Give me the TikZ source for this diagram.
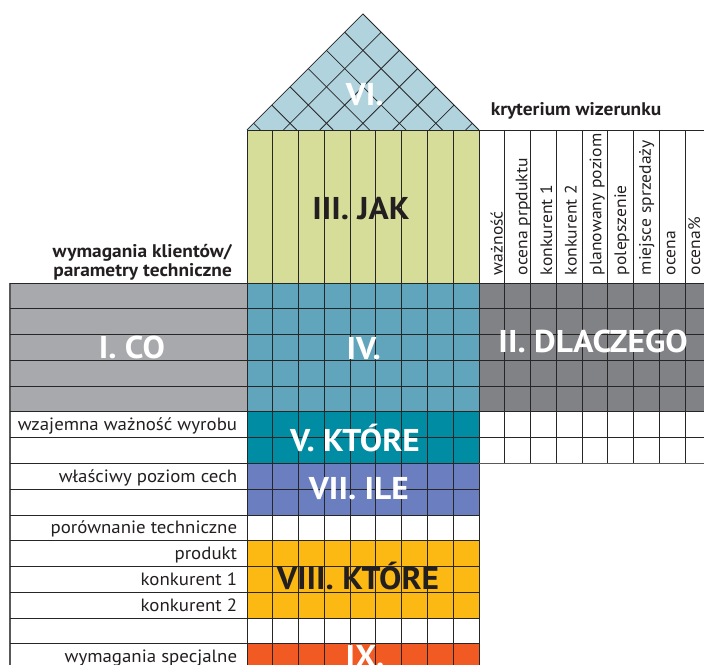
\documentclass[tikz,border=0pt]{standalone}
\usepackage{fontspec}
\setmainfont{PT Sans}[FakeStretch=1.06]
\usepackage{tikz,xcolor}

\definecolor{cogray}{HTML}{A7A9AC}
\definecolor{whygray}{HTML}{808285}
\definecolor{jakgreen}{HTML}{D5DD98}
\definecolor{roofblue}{HTML}{B1D3DE}
\definecolor{ivblue}{HTML}{60A5BC}
\definecolor{vteal}{HTML}{008CA2}
\definecolor{viiblue}{HTML}{6B7FC0}
\definecolor{viiiyellow}{HTML}{FDB913}
\definecolor{ixorange}{HTML}{F15A22}
\definecolor{darktext}{HTML}{231F20}

\begin{document}
\begin{tikzpicture}[x=25.77pt, y=25.77pt,
		gridline/.style={black!85, line width=0.8pt},
		edgeline/.style={black!65, line width=1.1pt},
		rowtext/.style={font=\fontsize{17.8}{20}\selectfont, anchor=base east, inner sep=0pt, darktext},
		crittext/.style={font=\fontsize{16.6}{20}\selectfont, rotate=90, anchor=base west, inner sep=0pt, darktext},
		secttext/.style={font=\fontsize{31.5}{34}\selectfont\bfseries, white, anchor=base, inner sep=0pt}]
	
	\useasboundingbox (-9.585,-14.785) rectangle (17.734,10.982);
	\clip (-9.585,-14.785) rectangle (17.734,10.982);
	
	% Fill the parts of the house.
	\fill[cogray] (-9.197,0) rectangle (0,-5);
	\fill[whygray] (9,0) rectangle (18,-5);
	\fill[jakgreen] (0,0) rectangle (9,5.94);
	\fill[ivblue] (0,0) rectangle (9,-5);
	\fill[vteal] (0,-5) rectangle (9,-7);
	\fill[viiblue] (0,-7) rectangle (9,-9);
	\fill[viiiyellow] (0,-10) rectangle (9,-13);
	\fill[ixorange] (0,-14) rectangle (9,-15);
	
	% Draw the roof.
	\fill[roofblue] (0,5.94) -- (4.5,10.44) -- (9,5.94) -- cycle;
	\begin{scope}
		\clip (0,5.94) -- (4.5,10.44) -- (9,5.94) -- cycle;
		\foreach \k in {1,...,6} {
			\draw[gridline] ({1.4142*\k},5.94) -- ++(5,5);
			\draw[gridline] ({9-1.4142*\k},5.94) -- ++(-5,5);
		}
	\end{scope}
	\draw[gridline] (0,5.94) -- (4.5,10.44) -- (9,5.94);
	
	% Draw vertical lines.
	\foreach \x in {0,...,9} {
		\draw[gridline] (\x,5.94) -- (\x,-15);
	}
	\foreach \x in {10,...,18} {
		\draw[gridline] (\x,5.94) -- (\x,-7);
	}
	\draw[edgeline] (-9.197,0) -- (-9.197,-15);
	
	% Draw horizontal lines.
	\draw[gridline] (0,5.94) -- (18,5.94);
	\foreach \y in {0,...,14} {
		\draw[gridline] (-9.197,-\y) -- (9,-\y);
	}
	\foreach \y in {0,...,6} {
		\draw[gridline] (9,-\y) -- (18,-\y);
	}
	\draw[edgeline] (9,-7) -- (18,-7);
	
	% Column headers.
	\node[font=\fontsize{18.3}{20}\selectfont\bfseries, darktext] (crit) at (12.77,6.675) {kryterium wizerunku};
	\foreach \txt [count=\i] in {ważność, ocena prpduktu, konkurent 1, konkurent 2,
			planowany poziom, polepszenie, miejsce sprzedaży, ocena, ocena\%} {
		\node[crittext] (crit\i) at ({9.92+0.958*(\i-1)},0.3) {\txt};
	}
	
	% Row headers.
	\node[font=\fontsize{18.3}{19}\selectfont\bfseries, darktext, align=right, anchor=east, inner sep=0pt] (req)
		at (-0.58,0.80) {wymagania klientów/\\parametry techniczne};
	\foreach \row/\txt in {5/wzajemna ważność wyrobu, 7/właściwy poziom cech, 9/porównanie techniczne,
			10/produkt, 11/konkurent 1, 12/konkurent 2, 14/wymagania specjalne} {
		\node[rowtext] (req\row) at (-0.376,{-\row-0.74}) {\txt};
	}
	
	% Names of the parts.
	\node[secttext] (co) at (-4.47,-2.92) {I. CO};
	\node[secttext] (dlaczego) at (13.43,-2.705) {II. DLACZEGO};
	\node[secttext, darktext] (jak) at (4.42,2.445) {III. JAK};
	\node[secttext] (iv) at (4.53,-2.96) {IV.};
	\node[secttext] (ktore) at (4.19,-6.55) {V. KTÓRE};
	\node[secttext] (vi) at (4.57,6.87) {VI.};
	\node[secttext] (ile) at (4.34,-8.39) {VII. ILE};
	\node[secttext, darktext] (ktoreb) at (4.31,-11.89) {VIII. KTÓRE};
	\node[secttext] (ix) at (4.58,-14.93) {IX.};
	
\end{tikzpicture}
\end{document}
